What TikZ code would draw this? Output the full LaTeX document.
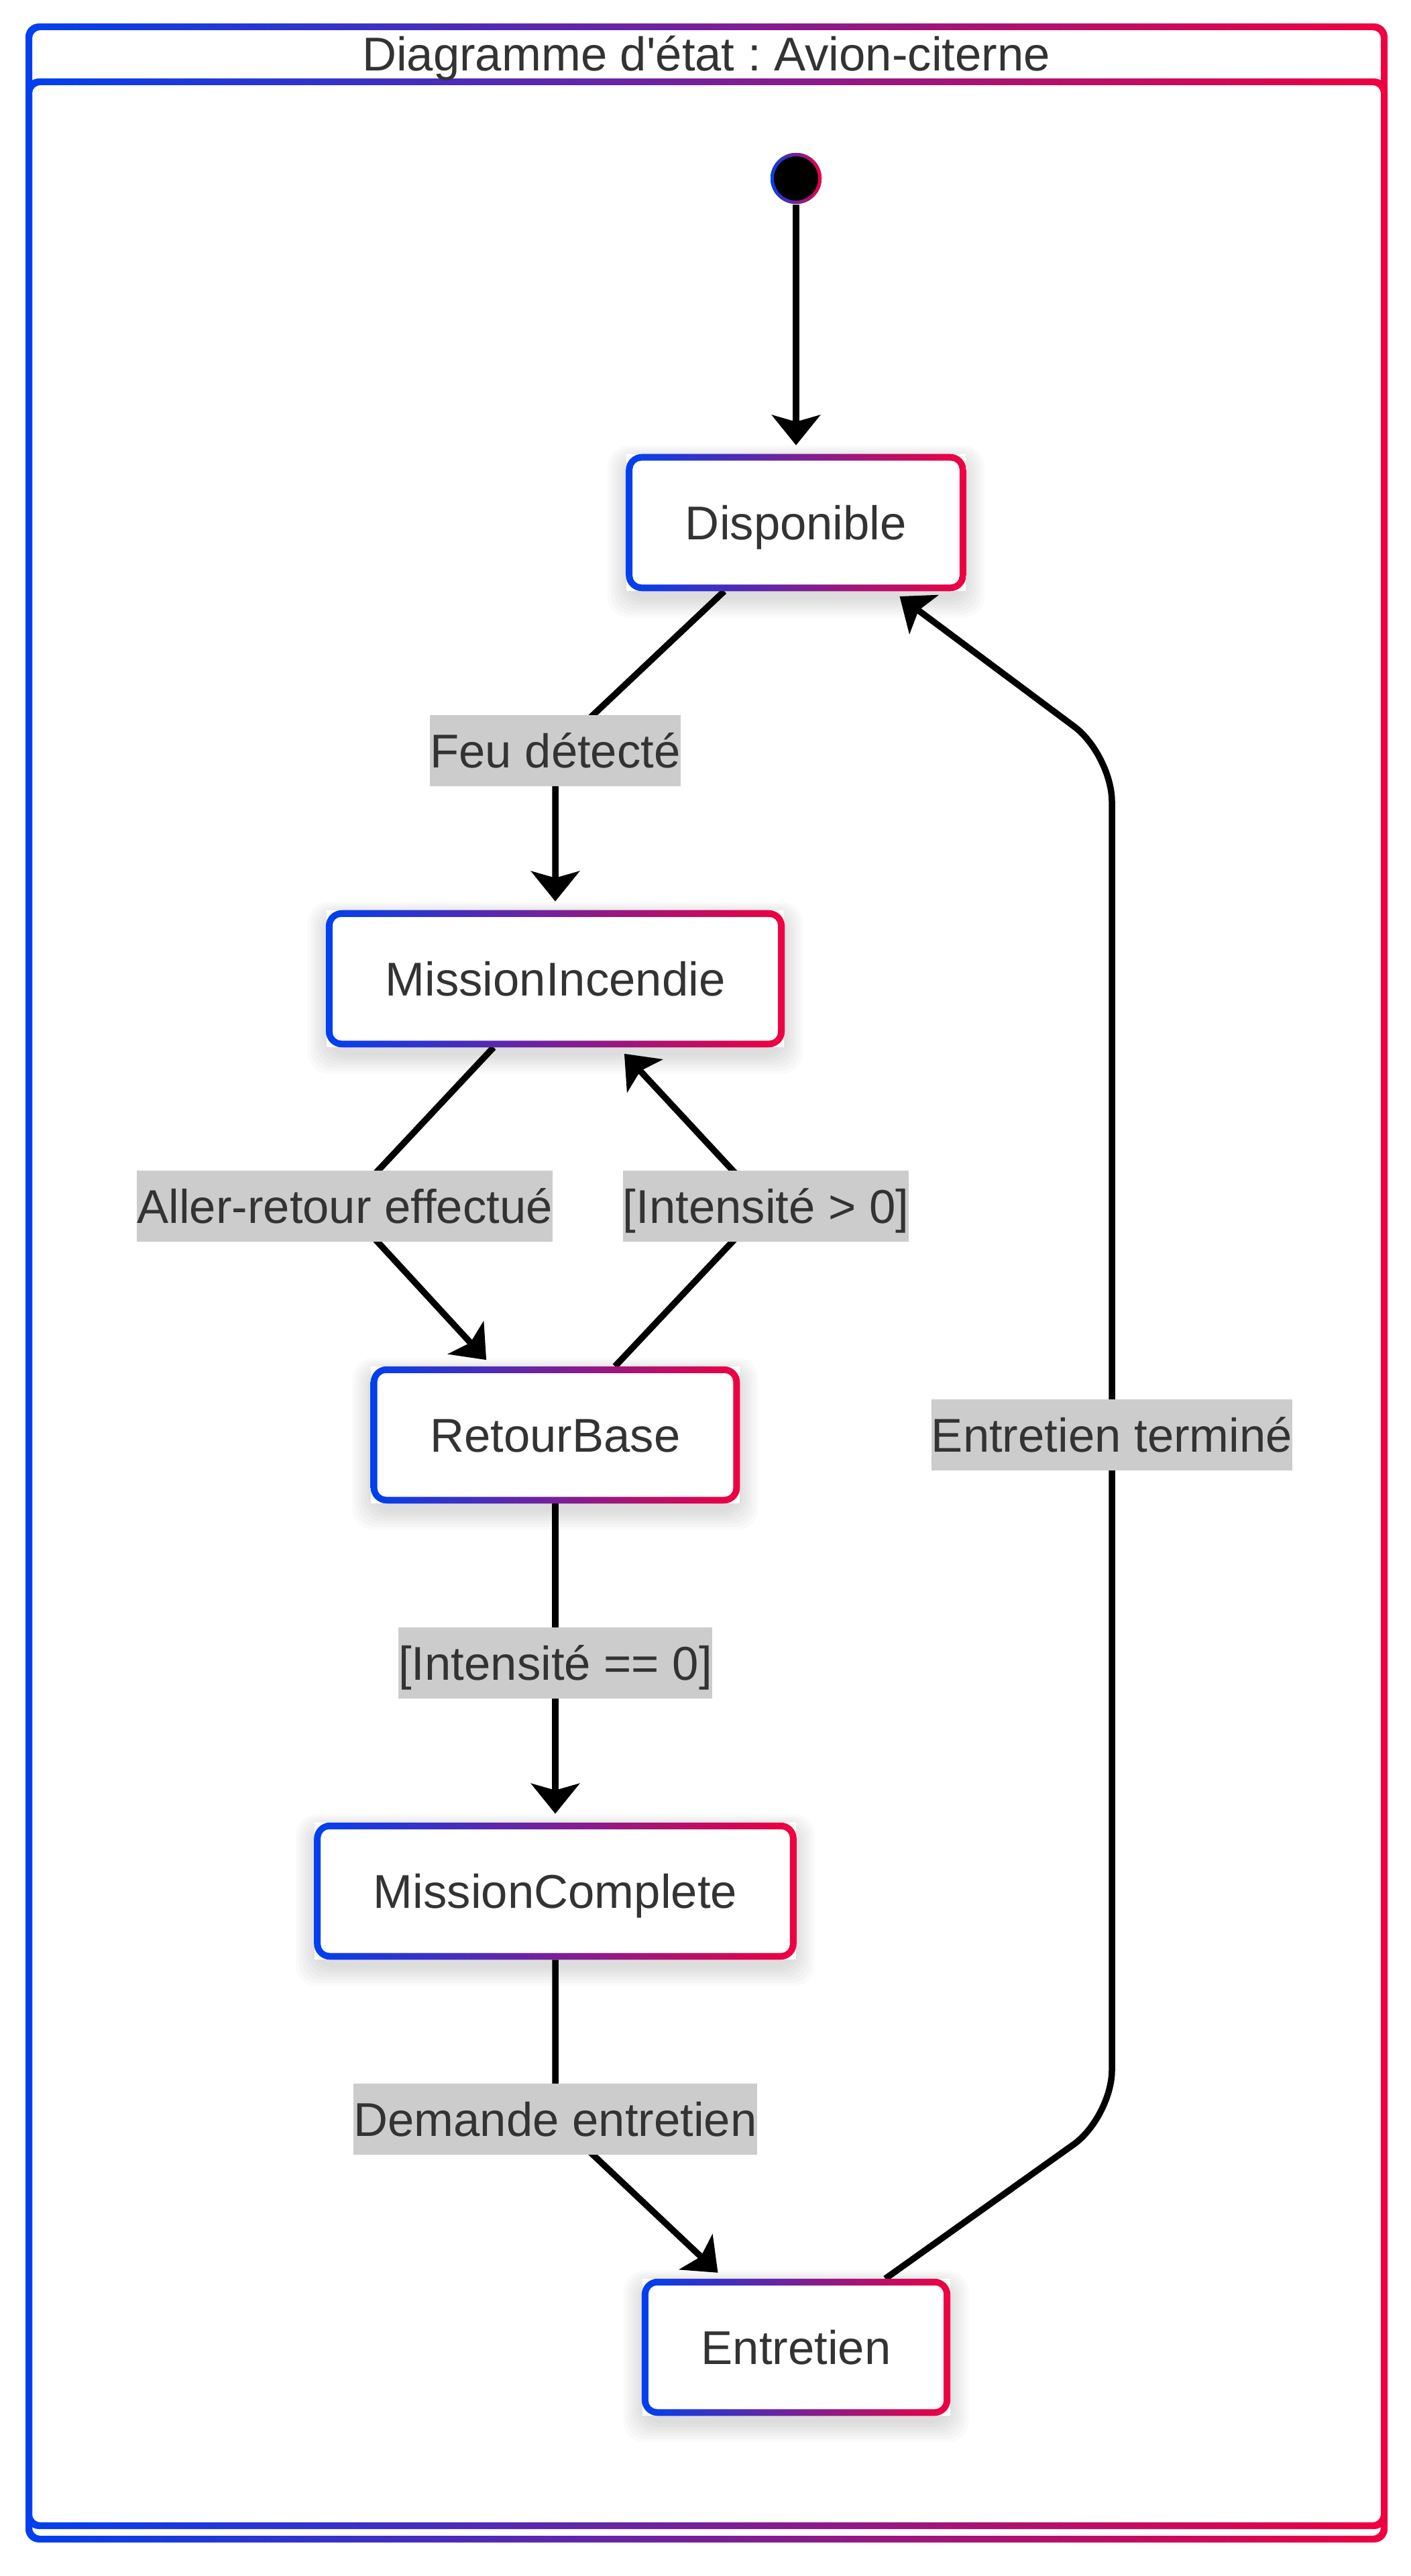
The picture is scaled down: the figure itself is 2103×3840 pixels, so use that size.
\documentclass[tikz,border=0pt]{standalone}
\usepackage{fontspec}
\newfontfamily\diagfont{Liberation Sans}
\usetikzlibrary{arrows.meta,backgrounds}
\definecolor{cblue}{HTML}{0040F0}
\definecolor{cred}{HTML}{F00040}
\definecolor{txtgray}{HTML}{333333}
\definecolor{lblgray}{HTML}{CCCCCC}
\frenchspacing
\newcommand{\diagsize}{\diagfont\fontsize{20.1}{24}\selectfont}
\newcommand{\gradring}[1]{%
  \shade[left color=cblue,right color=cred,even odd rule,rounded corners=0.24cm]
    (#1.south west) rectangle (#1.north east)
    [rounded corners=0.13cm]
    ([xshift=0.1cm,yshift=0.1cm]#1.south west) rectangle ([xshift=-0.1cm,yshift=-0.1cm]#1.north east);}
\newcommand{\ombre}[1]{%
  \foreach \k in {0,...,6}
    \fill[black,opacity=0.018,rounded corners=0.3cm]
      ([xshift={-\k*0.045cm},yshift={-0.12cm-\k*0.045cm}]#1.south west)
      rectangle ([xshift={\k*0.045cm},yshift={-0.06cm+\k*0.03cm}]#1.north east);}

\tikzset{
  etat/.style={rectangle,fill=white,text=txtgray,font=\diagsize,
               inner xsep=0.88cm,minimum height=2.03cm,text height=0.51cm,text depth=0pt},
  garde/.style={rectangle,fill=lblgray,text=txtgray,font=\diagsize,
                inner xsep=0pt,inner ysep=0.275cm,text height=0.51cm,text depth=0pt},
  trans/.style={line width=0.095cm,shorten >=0.13cm,
                -{Stealth[length=0.45cm,width=0.72cm,inset=0.1cm]}},
}

\begin{document}
\begin{tikzpicture}[x=0.01cm,y=-0.01cm]
            \useasboundingbox (0,0) rectangle (2103,3840);

            % Cadre du diagramme
            \shade[left color=cblue,right color=cred,even odd rule,rounded corners=0.2cm]
                (38,35) rectangle (2069,3790) [rounded corners=0.12cm] (48,45) rectangle (2059,3780);
            \shade[left color=cblue,right color=cred,even odd rule,rounded corners=0.2cm]
                (38,117) rectangle (2069,3770) [rounded corners=0.12cm] (48,127) rectangle (2059,3760);
            \node[font=\diagsize,text=txtgray,anchor=base] (titre) at (1053,106) {Diagramme d'état : Avion-citerne};

            % Etats
            \node[circle,fill=black,minimum size=0.76cm,inner sep=0pt] (init) at (1187,266) {};
            \shade[left color=cblue,right color=cred,even odd rule]
                (init.center) circle[radius=0.38cm] (init.center) circle[radius=0.33cm];
            \node[etat] (dispo)     at (1187,779)  {Disponible};
            \node[etat] (incendie)  at (828,1459)  {MissionIncendie};
            \node[etat] (retour)    at (828,2139)  {RetourBase};
            \node[etat] (complete)  at (828,2819)  {MissionComplete};
            \node[etat] (entretien) at (1187,3499) {Entretien};
            \foreach \n in {dispo,incendie,retour,complete,entretien}
                \gradring{\n};

            % Gardes et evenements
            \node[garde] (feu)     at (828,1119)  {Feu détecté};
            \node[garde] (aller)   at (514,1798)  {Aller-retour effectué};
            \node[garde] (sup)     at (1142,1798) {[Intensité > 0]};
            \node[garde] (egal)    at (828,2479)  {[Intensité == 0]};
            \node[garde] (demande) at (828,3159)  {Demande entretien};
            \node[garde] (fini)    at (1658,2139) {Entretien terminé};

            \coordinate (coudeBas)  at (1658,3156);
            \coordinate (coudeHaut) at (1658,1125);

            % Ombres et transitions
            \begin{scope}[on background layer]
                \foreach \n in {dispo,incendie,retour,complete,entretien}
                    \ombre{\n};
                \draw[trans] (init) -- (dispo);
                \draw[trans] ([xshift=-1.07cm]dispo.south) -- (feu.center) -- (incendie.north);
                \draw[trans] ([xshift=-0.92cm]incendie.south) -- (aller.center) -- ([xshift=-0.94cm]retour.north);
                \draw[trans] ([xshift=0.89cm]retour.north) -- (sup.center) -- ([xshift=0.94cm]incendie.south);
                \draw[trans] (retour.south) -- (egal.center) -- (complete.north);
                \draw[trans] (complete.south) -- (demande.center) -- ([xshift=-1.07cm]entretien.north);
                \draw[trans,rounded corners=0.7cm] ([xshift=1.33cm]entretien.north) -- (coudeBas)
                    -- (fini.center) -- (coudeHaut) -- ([xshift=1.44cm]dispo.south);
            \end{scope}
\end{tikzpicture}
\end{document}
